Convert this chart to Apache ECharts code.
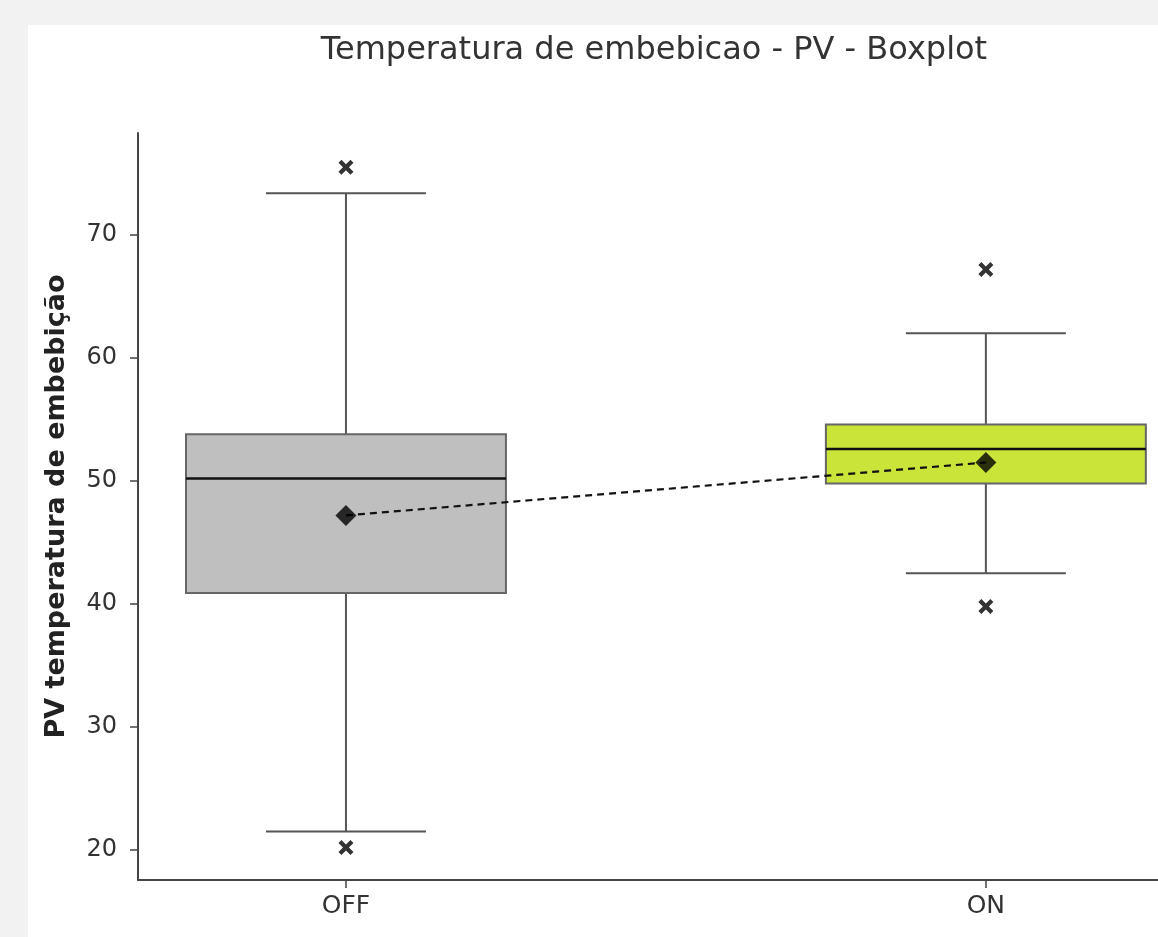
<!DOCTYPE html>
<html>
<head>
<meta charset="utf-8">
<script src="https://cdn.jsdelivr.net/npm/echarts@6/dist/echarts.min.js"></script>
<style>
html,body{margin:0;padding:0;background:#f2f2f2;}
#chart{width:1158px;height:937px;}
</style>
</head>
<body>
<div id="chart"></div>
<script>
// ---- data ----
const categories = ['OFF', 'ON'];
const whiskerLow = [21.5, 42.5];
const q1Values = [40.9, 49.8];
const medianValues = [50.2, 52.6];
const q3Values = [53.8, 54.6];
const whiskerHigh = [73.4, 62.0];
const meanValues = [47.2, 51.5];
const outliersOFF = [75.5, 20.2];
const outliersON = [67.2, 39.8];
const yTicks = [20, 30, 40, 50, 60, 70];

// ---- styles ----
const boxColors = ['#bfbfbf', '#cbe43a'];

const boxData = categories.map((c, i) => [i, whiskerLow[i], q1Values[i], medianValues[i], q3Values[i], whiskerHigh[i]]);
const outlierData = [];
outliersOFF.forEach(v => outlierData.push([0, v]));
outliersON.forEach(v => outlierData.push([1, v]));
const meanData = meanValues.map((v, i) => [i, v]);

function renderBox(params, api) {
  const x = api.value(0);
  const lo = api.value(1), q1 = api.value(2), med = api.value(3), q3 = api.value(4), hi = api.value(5);
  const bw = 0.25, cw = 0.125;
  const pLT = api.coord([x - bw, q3]);
  const pRB = api.coord([x + bw, q1]);
  const pC = api.coord([x, med]);
  const pHi = api.coord([x, hi]);
  const pLo = api.coord([x, lo]);
  const pQ3 = api.coord([x, q3]);
  const pQ1 = api.coord([x, q1]);
  const cL = api.coord([x - cw, hi])[0];
  const cR = api.coord([x + cw, hi])[0];
  const wStyle = {stroke: '#555', lineWidth: 2};
  return {
    type: 'group',
    children: [
      {type: 'line', shape: {x1: pHi[0], y1: pHi[1], x2: pQ3[0], y2: pQ3[1]}, style: wStyle},
      {type: 'line', shape: {x1: pLo[0], y1: pLo[1], x2: pQ1[0], y2: pQ1[1]}, style: wStyle},
      {type: 'line', shape: {x1: cL, y1: pHi[1], x2: cR, y2: pHi[1]}, style: wStyle},
      {type: 'line', shape: {x1: cL, y1: pLo[1], x2: cR, y2: pLo[1]}, style: wStyle},
      {type: 'rect', shape: {x: pLT[0], y: pLT[1], width: pRB[0] - pLT[0], height: pRB[1] - pLT[1]},
        style: {fill: boxColors[params.dataIndex], stroke: '#666', lineWidth: 2}},
      {type: 'line', shape: {x1: pLT[0], y1: pC[1], x2: pRB[0], y2: pC[1]}, style: {stroke: '#111', lineWidth: 2.5}}
    ]
  };
}

const chart = echarts.init(document.getElementById('chart'));
const font = 'DejaVu Sans';
chart.setOption({
  backgroundColor: '#f2f2f2',
  animation: false,
  graphic: [{type: 'rect', z: -10, shape: {x: 28, y: 25, width: 1200, height: 1000}, style: {fill: '#ffffff'}}],
  title: {
    text: 'Temperatura de embebicao - PV - Boxplot',
    left: 649, textAlign: 'center', top: 30,
    textStyle: {fontFamily: font, fontSize: 32, fontWeight: 'normal', color: '#333'}
  },
  grid: {left: 138, right: 0, top: 133, bottom: 57},
  xAxis: {
    type: 'value', min: -0.325, max: 1.269,
    splitLine: {show: false},
    axisLine: {show: true, onZero: false, lineStyle: {color: '#444', width: 2}},
    axisTick: {show: true, customValues: [0, 1], length: 8, lineStyle: {color: '#444', width: 1.5}},
    axisLabel: {customValues: [0, 1], formatter: v => categories[Math.round(v)], margin: 14,
      fontFamily: font, fontSize: 25, color: '#333'}
  },
  yAxis: {
    type: 'value', min: 17.56, max: 78.29,
    name: 'PV temperatura de embebição', nameLocation: 'middle', nameGap: 68,
    nameTextStyle: {fontFamily: font, fontSize: 27, fontWeight: 'bold', color: '#222'},
    splitLine: {show: false},
    axisLine: {show: true, onZero: false, lineStyle: {color: '#444', width: 2}},
    axisTick: {show: true, customValues: yTicks, length: 8, lineStyle: {color: '#444', width: 1.5}},
    axisLabel: {customValues: yTicks, margin: 21, fontFamily: font, fontSize: 24, color: '#333'}
  },
  series: [
    {type: 'custom', renderItem: renderBox, data: boxData, encode: {x: 0, y: [1, 2, 3, 4, 5]}, z: 2},
    {type: 'line', data: meanData, symbol: 'none', lineStyle: {color: '#111', width: 2.2, type: [7, 5]}, z: 3},
    {type: 'scatter', data: meanData, symbol: 'diamond', symbolSize: [21, 21], itemStyle: {color: '#000'}, z: 4},
    {type: 'scatter', data: outlierData,
      symbol: 'path://M2,0 L5,3 L8,0 L10,2 L7,5 L10,8 L8,10 L5,7 L2,10 L0,8 L3,5 L0,2 Z',
      symbolSize: 15, itemStyle: {color: '#000'}, z: 4}
  ]
});
</script>
</body>
</html>
